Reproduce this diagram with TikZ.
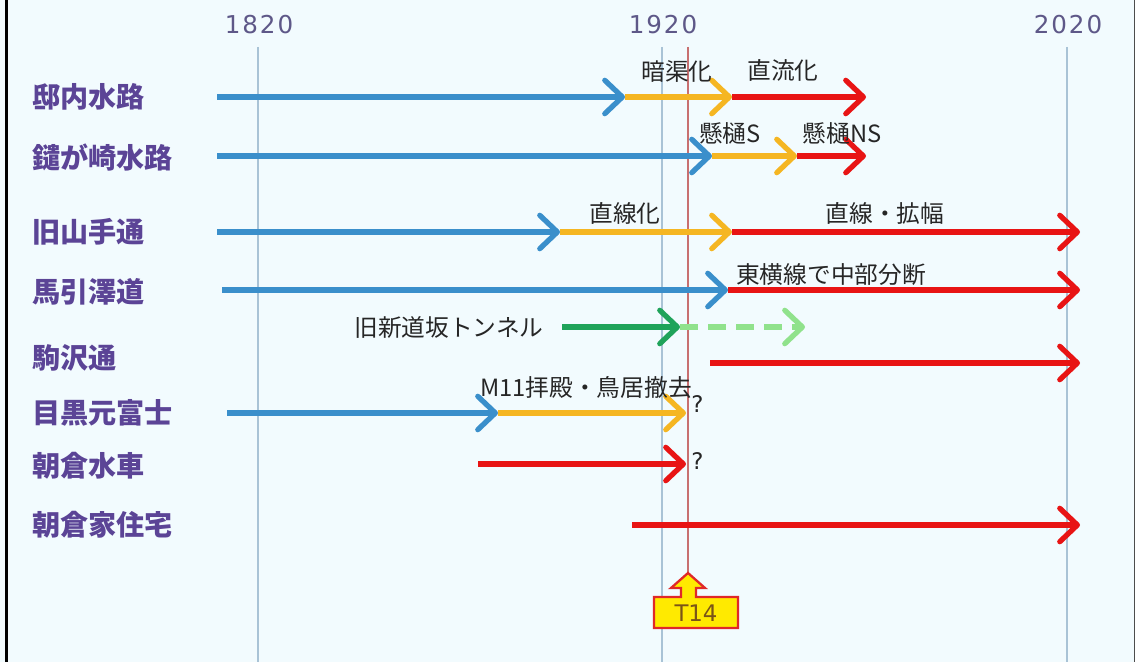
\documentclass[tikz,border=0pt]{standalone}
\usepackage{fontspec}
\newfontfamily\jp{Noto Sans CJK JP}
\newfontfamily\yr[LetterSpace=8]{DejaVu Sans}
\newfontfamily\tf{DejaVu Sans}
\usetikzlibrary{arrows.meta}
\definecolor{bgc}{HTML}{F2FBFE}
\definecolor{gridc}{HTML}{A9C3D6}
\definecolor{labc}{HTML}{5B4496}
\definecolor{yrc}{HTML}{5E5888}
\definecolor{ablue}{HTML}{3A8FCB}
\definecolor{ayel}{HTML}{F5B622}
\definecolor{ared}{HTML}{E81414}
\definecolor{agreen}{HTML}{1FA35A}
\definecolor{alight}{HTML}{90E28C}
\definecolor{tline}{HTML}{C87070}
\definecolor{tfill}{HTML}{FFEA00}
\definecolor{tedge}{HTML}{E02828}
\definecolor{ttext}{HTML}{7A5418}
\begin{document}
\begin{tikzpicture}[x=0.02cm,y=-0.02cm,
  seg/.style={line width=3pt,-{Straight Barb[length=10pt,width=19pt,round]}},
  gridline/.style={gridc,line width=0.9pt},
  rowlab/.style={anchor=west,text=labc,font=\jp\bfseries\fontsize{16}{18}\selectfont,inner sep=0pt},
  note/.style={text=black!85,font=\jp\fontsize{13.5}{16}\selectfont,inner sep=0pt},
  yearlab/.style={text=yrc,font=\yr\fontsize{14}{16}\selectfont,inner sep=0pt},
  qmark/.style={anchor=west,text=black!85,font=\tf\fontsize{13}{15}\selectfont,inner sep=0pt}]
\useasboundingbox (0,0) rectangle (1135,662);
\fill[bgc] (0,0) rectangle (1135,662);
\draw[black,line width=1.8pt] (6.5,0) -- (6.5,662);
\draw[black!70,line width=0.8pt] (1134.5,0) -- (1134.5,662);

% year grid
\node[yearlab] (y1820) at (259,25) {1820};
\node[yearlab] (y1920) at (663,25) {1920};
\node[yearlab] (y2020) at (1068,25) {2020};
\coordinate (g1a) at (258,47); \coordinate (g1b) at (258,662);
\coordinate (g2a) at (662,47); \coordinate (g2b) at (662,662);
\coordinate (g3a) at (1067,47); \coordinate (g3b) at (1067,662);
\draw[gridline] (g1a) -- (g1b);
\draw[gridline] (g2a) -- (g2b);
\draw[gridline] (g3a) -- (g3b);

% T14 line and marker
\coordinate (t14top) at (688,47);
\coordinate (t14tip) at (688,573);
\draw[tline,line width=0.6pt] (t14top) -- (t14tip);
\draw[tedge,fill=tfill,line width=1.3pt,line join=miter]
  (654,597) -- (681,597) -- (681,588) -- (671,588) -- (t14tip) -- (705,588)
  -- (696,588) -- (696,597) -- (738,597) -- (738,628) -- (654,628) -- cycle;
\node[text=ttext,font=\tf\fontsize{13}{15}\selectfont,inner sep=0pt] (t14) at (696,613) {T14};

% row labels
\node[rowlab] (l1) at (32,97) {邸内水路};
\node[rowlab] (l2) at (32,158) {鑓が崎水路};
\node[rowlab] (l3) at (32,232) {旧山手通};
\node[rowlab] (l4) at (32,292) {馬引澤道};
\node[rowlab] (l5) at (32,358) {駒沢通};
\node[rowlab] (l6) at (32,413) {目黒元富士};
\node[rowlab] (l7) at (32,466) {朝倉水車};
\node[rowlab] (l8) at (32,525) {朝倉家住宅};

% row 1
\coordinate (a1) at (217,97); \coordinate (b1) at (625,97);
\coordinate (c1) at (732,97); \coordinate (d1) at (866,97);
\draw[seg,ablue] (a1) -- (b1);
\draw[seg,ayel] (b1) -- (c1);
\draw[seg,ared] (c1) -- (d1);
\node[note] (n1a) at (677,72) {暗渠化};
\node[note] (n1b) at (783,70) {直流化};

% row 2
\coordinate (a2) at (217,156); \coordinate (b2) at (712,156);
\coordinate (c2) at (797,156); \coordinate (d2) at (866,156);
\draw[seg,ablue] (a2) -- (b2);
\draw[seg,ayel] (b2) -- (c2);
\draw[seg,ared] (c2) -- (d2);
\node[note] (n2a) at (730,133) {懸樋S};
\node[note] (n2b) at (842,133) {懸樋NS};

% row 3
\coordinate (a3) at (217,232); \coordinate (b3) at (560,232);
\coordinate (c3) at (732,232); \coordinate (d3) at (1080,232);
\draw[seg,ablue] (a3) -- (b3);
\draw[seg,ayel] (b3) -- (c3);
\draw[seg,ared] (c3) -- (d3);
\node[note] (n3a) at (625,213) {直線化};
\node[note] (n3b) at (885,213) {直線・拡幅};

% row 4
\coordinate (a4) at (222,290); \coordinate (b4) at (728,290);
\coordinate (c4) at (1080,290);
\draw[seg,ablue] (a4) -- (b4);
\draw[seg,ared] (b4) -- (c4);
\node[note] (n4) at (831,275) {東横線で中部分断};

% tunnel
\node[note] (n5) at (449,328) {旧新道坂トンネル};
\coordinate (a5) at (562,327); \coordinate (b5) at (680,327);
\coordinate (c5) at (805,327);
\draw[seg,agreen] (a5) -- (b5);
\draw[seg,alight,dash pattern=on 10pt off 6pt] (b5) -- (c5);

% komazawa
\coordinate (a6) at (710,363); \coordinate (b6) at (1080,363);
\draw[seg,ared] (a6) -- (b6);

% motofuji
\coordinate (a7) at (227,413); \coordinate (b7) at (498,413);
\coordinate (c7) at (686,413);
\draw[seg,ablue] (a7) -- (b7);
\draw[seg,ayel] (b7) -- (c7);
\node[note] (n7) at (586,388) {M11拝殿・鳥居撤去};
\node[qmark] (q7) at (691,404) {?};

% suisha
\coordinate (a8) at (478,464); \coordinate (b8) at (686,464);
\draw[seg,ared] (a8) -- (b8);
\node[qmark] (q8) at (691,461) {?};

% jutaku
\coordinate (a9) at (632,525); \coordinate (b9) at (1080,525);
\draw[seg,ared] (a9) -- (b9);
\end{tikzpicture}
\end{document}
